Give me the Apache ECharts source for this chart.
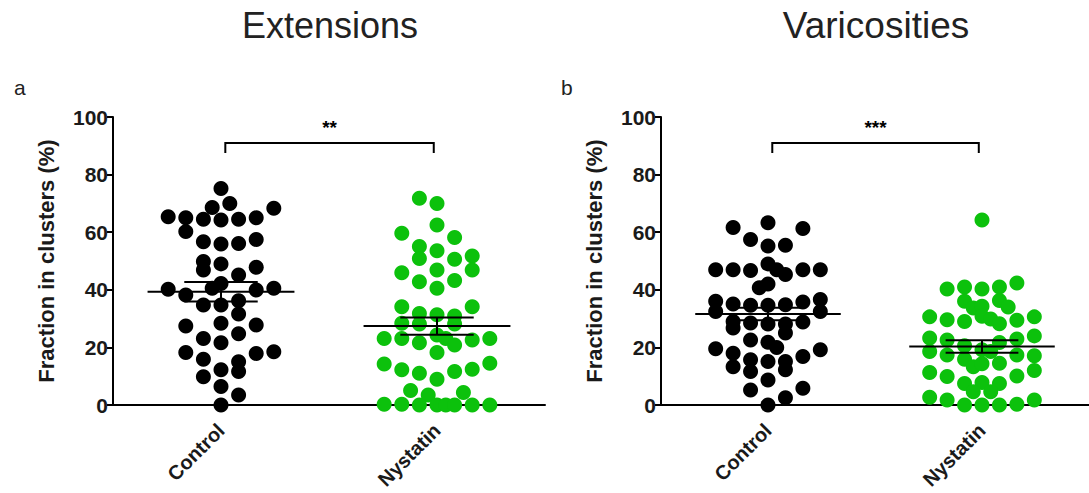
<!DOCTYPE html>
<html>
<head>
<meta charset="utf-8">
<script src="https://cdn.jsdelivr.net/npm/echarts@6/dist/echarts.min.js"></script>
<style>
html,body{margin:0;padding:0;background:#fff;}
#chart{width:1089px;height:493px;}
</style>
</head>
<body>
<div id="chart"></div>
<script>
// ---------- data ----------
const categories = ['Control', 'Nystatin'];
const panelTitles = ['Extensions', 'Varicosities'];
const panelLetters = ['a', 'b'];
const yAxisName = 'Fraction in clusters (%)';
const yTicks = [0, 20, 40, 60, 80, 100];
const significance = ['**', '***'];

// Extensions – Control (values) and swarm column index of each dot
const extControlValues = [75.2,70.0,68.6,68.3,65.4,65.0,64.5,64.2,64.5,65.0,60.2,57.5,56.7,55.9,56.1,49.8,46.9,49.0,47.8,45.1,42.2,40.2,38.2,40.5,39.9,40.5,34.7,34.7,36.2,31.6,28.4,27.4,27.8,23.1,24.7,21.6,18.2,17.9,18.5,15.9,15.0,9.8,12.2,11.6,6.4,3.5,0];
const extControlCols   = [0,0.5,-0.5,3,-3,-2,-1,0,1,2,-2,2,-1,0,1,-1,-1,0,2,1,0,-3,-2,-0.5,2,3,-1,0,1,1,0,-2,2,-1,1,0,-2,2,3,-1,1,-1,0,1,0,1,0];
// Extensions – Nystatin
const extNystatinValues = [71.8,70.0,62.5,59.6,58.2,55.0,53.6,50.9,50.6,51.7,45.9,46.9,46.9,42.8,43.2,40.5,34.1,34.1,31.8,31.3,30.9,28.4,28.1,28.1,23.1,23.1,21.6,24.3,23.1,20.8,22.6,23.1,18.2,14.2,12.2,11.0,8.9,11.6,12.4,14.5,5.0,3.5,4.3,0.3,0.3,0,0,0,0,0,0];
const extNystatinCols   = [-1,0,0,-2,1,-1,0,-1,1,2,-2,0,2,-1,1,0,-2,2,-1,0,1,-2,-1,1,-3,-2,-1,0,0.5,1,2,3,0,-3,-2,-1,0,1,2,3,-1.5,-0.5,1.5,-3,-2,-1,0,0.5,1,2,3];
// Varicosities – Control
const varControlValues = [63.3,61.6,61.3,57.5,55.2,55.5,47.0,47.0,46.7,49.0,47.0,45.3,47.0,47.0,40.7,42.0,36.0,32.5,35.1,34.6,34.6,34.8,35.8,36.6,32.5,29.0,26.7,28.5,28.1,28.1,25.0,28.8,22.6,21.8,20.0,19.5,18.0,19.2,15.7,11.6,15.1,15.1,16.8,13.3,12.2,8.7,5.2,5.8,2.5,0];
const varControlCols   = [0,-2,2,-1,0,1,-3,-2,-1,0,0.5,1,2,3,-0.5,0,-3,-3,-2,-1,0,1,2,3,3,-2,-2,-1,0,1,1,2,-1,0,0.5,-3,-2,3,-1,-1,0,1,2,-2,1,0,-1,2,1,0];
// Varicosities – Nystatin
const varNystatinValues = [64.2,40.3,41.0,40.3,41.0,42.4,36.0,36.3,33.7,34.3,34.0,30.6,29.6,29.0,30.8,29.9,28.2,29.4,30.6,23.3,18.6,22.6,20.6,19.2,18.6,21.7,22.9,24.0,17.4,15.9,13.3,14.3,14.5,17.4,17.1,12.0,11.3,9.9,7.5,7.8,7.5,10.1,4.6,4.6,2.7,1.7,0,0,0,0.3,1.7];
const varNystatinCols   = [0,-2,-1,0,1,2,-1,1,-0.5,0,1.5,-3,-2,-1,0,0.5,1,2,3,-3,-3,-2,-1,0,0.5,1,2,3,-2,-1,-0.5,0,1,2,3,3,-3,-2,-1,0,1,2,-0.5,0.5,-3,-2,-1,0,1,2,3];

// mean and SEM
const extMeans = [39.3, 27.4];
const extSems  = [3.4, 3.0];
const varMeans = [31.6, 20.3];
const varSems  = [2.2, 2.2];

// ---------- styling / layout constants ----------
const COL_STEP = 0.0815;      // horizontal spacing between swarm columns (axis units)
const MEAN_HALF = 0.34;
const SEM_HALF = 0.17;
const BRACKET = {x1: 1.02, x2: 1.985, top: 91, drop: 87.5, label: 96.5};
const BLACK = '#000000';
const GREEN = '#0cc10c';
const FONT = 'Liberation Sans, Arial, Helvetica, sans-serif';

function swarm(values, cols, center) {
  return values.map((v, i) => [center + cols[i] * COL_STEP, v]);
}
function seg(a, b) {
  return {type: 'line', shape: {x1: a[0], y1: a[1], x2: b[0], y2: b[1]},
          style: {stroke: BLACK, lineWidth: 2}};
}
function meanSemRender(params, api) {
  const c = api.value(0), m = api.value(1), s = api.value(2);
  return {type: 'group', children: [
    seg(api.coord([c - MEAN_HALF, m]), api.coord([c + MEAN_HALF, m])),
    seg(api.coord([c, m - s]), api.coord([c, m + s])),
    seg(api.coord([c - SEM_HALF, m + s]), api.coord([c + SEM_HALF, m + s])),
    seg(api.coord([c - SEM_HALF, m - s]), api.coord([c + SEM_HALF, m - s]))
  ]};
}
function bracketRender(label) {
  return function (params, api) {
    const p1 = api.coord([api.value(0), api.value(3)]);
    const p2 = api.coord([api.value(0), api.value(2)]);
    const p3 = api.coord([api.value(1), api.value(2)]);
    const p4 = api.coord([api.value(1), api.value(3)]);
    const t = api.coord([(api.value(0) + api.value(1)) / 2, api.value(4)]);
    return {type: 'group', children: [
      {type: 'polyline', shape: {points: [p1, p2, p3, p4]},
       style: {stroke: BLACK, lineWidth: 2, fill: null}},
      {type: 'text', x: t[0], y: t[1],
       style: {text: label, align: 'center', verticalAlign: 'middle',
               font: 'bold 19px ' + FONT, fill: BLACK}}
    ]};
  };
}

const grids = [
  {left: 113, top: 117, width: 432, height: 288},
  {left: 661, top: 117, width: 434, height: 288}
];

function xAxisFor(i) {
  return {
    type: 'value', gridIndex: i, min: 0.5, max: 2.5,
    axisLine: {show: true, onZero: false, lineStyle: {color: BLACK, width: 2}},
    axisTick: {show: true, customValues: [1, 2], length: 5, lineStyle: {color: BLACK, width: 2}},
    axisLabel: {show: true, customValues: [1, 2], rotate: 45, margin: 22,
      formatter: v => categories[Math.round(v) - 1],
      fontFamily: FONT, fontWeight: 'bold', fontSize: 20, color: '#1a1a1a'},
    splitLine: {show: false}
  };
}
function yAxisFor(i) {
  return {
    type: 'value', gridIndex: i, min: yTicks[0], max: yTicks[yTicks.length - 1],
    interval: yTicks[1] - yTicks[0],
    name: yAxisName, nameLocation: 'middle', nameRotate: 90, nameGap: 56,
    nameTextStyle: {fontFamily: FONT, fontWeight: 'bold', fontSize: 22, color: '#1a1a1a'},
    axisLine: {show: true, lineStyle: {color: BLACK, width: 2}},
    axisTick: {show: true, length: 6, lineStyle: {color: BLACK, width: 2}},
    axisLabel: {margin: 5, fontFamily: FONT, fontWeight: 'bold', fontSize: 21, color: '#1a1a1a'},
    splitLine: {show: false}
  };
}

const groups = [
  {grid: 0, values: extControlValues, cols: extControlCols, center: 1, color: BLACK},
  {grid: 0, values: extNystatinValues, cols: extNystatinCols, center: 2, color: GREEN},
  {grid: 1, values: varControlValues, cols: varControlCols, center: 1, color: BLACK},
  {grid: 1, values: varNystatinValues, cols: varNystatinCols, center: 2, color: GREEN}
];

const series = groups.map(g => ({
  type: 'scatter', xAxisIndex: g.grid, yAxisIndex: g.grid,
  data: swarm(g.values, g.cols, g.center),
  symbol: 'circle', symbolSize: 15,
  itemStyle: {color: g.color, opacity: 1},
  emphasis: {disabled: true}, silent: true, z: 2
}));

[[extMeans, extSems], [varMeans, varSems]].forEach((ms, gi) => {
  series.push({
    type: 'custom', xAxisIndex: gi, yAxisIndex: gi, renderItem: meanSemRender,
    data: categories.map((c, k) => [k + 1, ms[0][k], ms[1][k]]),
    clip: false, silent: true, z: 5
  });
  series.push({
    type: 'custom', xAxisIndex: gi, yAxisIndex: gi, renderItem: bracketRender(significance[gi]),
    data: [[BRACKET.x1, BRACKET.x2, BRACKET.top, BRACKET.drop, BRACKET.label]],
    clip: false, silent: true, z: 5
  });
});

const chart = echarts.init(document.getElementById('chart'), null, {renderer: 'svg'});
chart.setOption({
  backgroundColor: '#ffffff',
  animation: false,
  title: [
    {text: panelTitles[0], left: 325, top: 2, textAlign: 'center',
     textStyle: {fontFamily: FONT, fontWeight: 'normal', fontSize: 36, color: '#222222'}},
    {text: panelTitles[1], left: 871, top: 2, textAlign: 'center',
     textStyle: {fontFamily: FONT, fontWeight: 'normal', fontSize: 37, color: '#222222'}},
    {text: panelLetters[0], left: 9, top: 72,
     textStyle: {fontFamily: FONT, fontWeight: 'normal', fontSize: 21, color: '#222222'}},
    {text: panelLetters[1], left: 556, top: 72,
     textStyle: {fontFamily: FONT, fontWeight: 'normal', fontSize: 21, color: '#222222'}}
  ],
  grid: grids,
  xAxis: [xAxisFor(0), xAxisFor(1)],
  yAxis: [yAxisFor(0), yAxisFor(1)],
  series: series
});
</script>
</body>
</html>
